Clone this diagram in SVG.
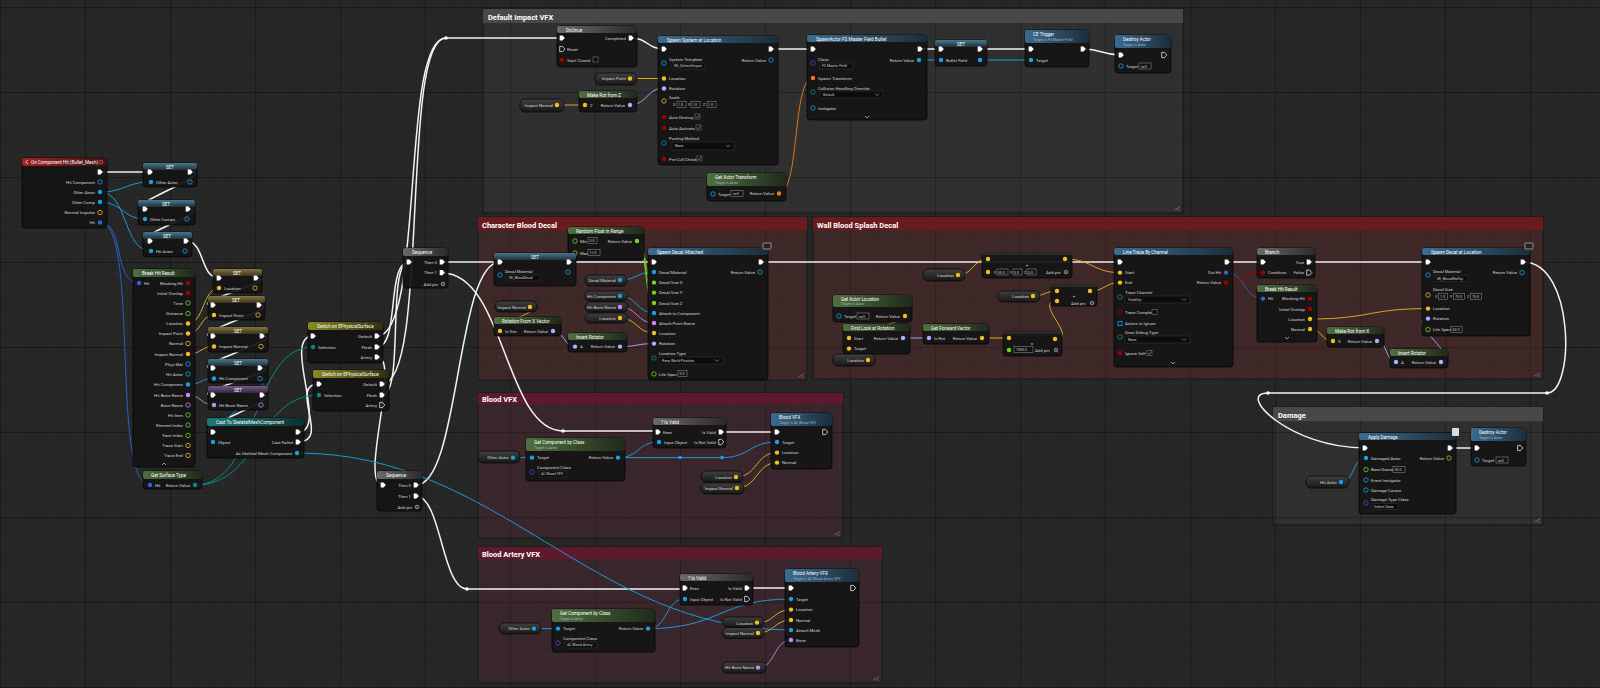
<svg xmlns="http://www.w3.org/2000/svg" width="1600" height="688" viewBox="0 0 1600 688">
<defs>
<pattern id="grid" patternUnits="userSpaceOnUse" x="0" y="7" width="85" height="85">
<rect width="85" height="85" fill="#262626"/>
<path d="M10.6 0V85M21.25 0V85M31.9 0V85M42.5 0V85M53.1 0V85M63.75 0V85M74.4 0V85M0 10.6H85M0 21.25H85M0 31.9H85M0 42.5H85M0 53.1H85M0 63.75H85M0 74.4H85" stroke="#2c2c2c" stroke-width="0.6"/>
<path d="M0.5 0V85M0 0.5H85" stroke="#191919" stroke-width="1"/>
</pattern>
<linearGradient id="gB" x1="0" x2="1"><stop offset="0" stop-color="#3b6c90"/><stop offset="1" stop-color="#1c2d3a"/></linearGradient>
<linearGradient id="gG" x1="0" x2="1"><stop offset="0" stop-color="#4f7040"/><stop offset="1" stop-color="#1f2a1c"/></linearGradient>
<linearGradient id="gR" x1="0" x2="1"><stop offset="0" stop-color="#a52222"/><stop offset="1" stop-color="#3a1212"/></linearGradient>
<linearGradient id="gY" x1="0" x2="1"><stop offset="0" stop-color="#8a8a25"/><stop offset="1" stop-color="#2e2e10"/></linearGradient>
<linearGradient id="gT" x1="0" x2="1"><stop offset="0" stop-color="#1b7a78"/><stop offset="1" stop-color="#0f2e2e"/></linearGradient>
<linearGradient id="gK" x1="0" x2="1"><stop offset="0" stop-color="#6a6a6a"/><stop offset="1" stop-color="#2a2a2a"/></linearGradient>
<linearGradient id="sB" x1="0" y1="0" x2="0" y2="1"><stop offset="0" stop-color="#4a7890"/><stop offset="1" stop-color="#1f303a"/></linearGradient>
<linearGradient id="sY" x1="0" y1="0" x2="0" y2="1"><stop offset="0" stop-color="#857540"/><stop offset="1" stop-color="#3a3420"/></linearGradient>
<linearGradient id="sP" x1="0" y1="0" x2="0" y2="1"><stop offset="0" stop-color="#7a5a8c"/><stop offset="1" stop-color="#33283a"/></linearGradient>
<linearGradient id="gP" x1="0" y1="0" x2="0" y2="1"><stop offset="0" stop-color="#404040"/><stop offset="1" stop-color="#181818"/></linearGradient>
<linearGradient id="gO" x1="0" y1="0" x2="0" y2="1"><stop offset="0" stop-color="#3a3a3a"/><stop offset="0.35" stop-color="#1c1c1c"/><stop offset="1" stop-color="#141414"/></linearGradient>
<path id="ex" d="M-2.3,-2.6H0.5L2.8,0L0.5,2.6H-2.3Z"/>
<style>
.nb{fill:#141414;fill-opacity:.93;stroke:#050505;stroke-width:.8}
.gp{fill:url(#gP);stroke:#080808;stroke-width:.8}
.t{font-family:Roboto,"Liberation Sans",sans-serif;font-size:4.3px;fill:#d4d4d4}
.r{text-anchor:end}
.m{text-anchor:middle}
.h{font-family:Roboto,"Liberation Sans",sans-serif;font-size:4.6px;fill:#fff}
.hs{font-family:Roboto,"Liberation Sans",sans-serif;font-size:3.6px;fill:#9fb4c4}
.ct{font-family:Roboto,"Liberation Sans",sans-serif;font-weight:bold;font-size:7.5px;fill:#fff}
.v{font-family:Roboto,"Liberation Sans",sans-serif;font-size:3.6px;fill:#cfcfcf}
.dd{fill:#0c0c0c;stroke:#3a3a3a;stroke-width:.5}
.bx{fill:#111;stroke:#9a9a9a;stroke-width:.5}
.cb{fill:#0c0c0c;stroke:#8a8a8a;stroke-width:.5}
.ck{fill:none;stroke:#6aa8e8;stroke-width:.7}
.xf{fill:#fff}
.xh{fill:none;stroke:#fff;stroke-width:.7}
.fB{fill:#1aa0e6}.hB{fill:none;stroke:#1aa0e6;stroke-width:.8}
.fS{fill:#2a66d8}
.fY{fill:#f0c020}.hY{fill:none;stroke:#f0c020;stroke-width:.8}
.fR{fill:#a8b0ff}
.fO{fill:#f07a18}
.fG{fill:#78d228}.hG{fill:none;stroke:#78d228;stroke-width:.8}
.fN{fill:#c88cf0}.hN{fill:none;stroke:#c88cf0;stroke-width:.8}
.fBo{fill:#a00000}.hBo{fill:none;stroke:#a00000;stroke-width:.8}
.fE{fill:#0a8a80}.hE{fill:none;stroke:#0a8a80;stroke-width:.8}
.hC{fill:none;stroke:#6a3ac0;stroke-width:.8}
.w{fill:none}
.wx{stroke:#f2f2f2;stroke-width:1.5}
.wB{stroke:#1a98d8;stroke-width:1}
.wS{stroke:#2a5fc0;stroke-width:1}
.wY{stroke:#d8a820;stroke-width:1}
.wR{stroke:#9aa2f0;stroke-width:1}
.wO{stroke:#e07418;stroke-width:1}
.wG{stroke:#6ccc20;stroke-width:1}
.wN{stroke:#b47ee0;stroke-width:1}
.wBo{stroke:#a00000;stroke-width:1}
.wE{stroke:#0a8a80;stroke-width:1}
.cm{stroke:#161616;stroke-width:1}
</style>
</defs>
<rect width="1600" height="688" fill="url(#grid)"/>

<g id="comments">
<g id="c-default-impact">
<rect class="cm" x="483" y="9" width="700" height="204" fill="#ffffff" fill-opacity="0.045"/>
<rect x="483" y="9" width="700" height="14" fill="#484848"/>
<text class="ct" x="488" y="20">Default Impact VFX</text>
<path d="M1180 210L1177 210M1180 207L1174 210" stroke="#888" stroke-width=".6"/>
</g>
<g id="c-character-blood">
<rect class="cm" x="478" y="217" width="329" height="163" fill="#903030" fill-opacity="0.24"/>
<rect x="478" y="217" width="329" height="13" fill="#6a1c1c"/>
<text class="ct" x="482" y="227.5">Character Blood Decal</text>
<path d="M804 377L801 377M804 374L798 377" stroke="#888" stroke-width=".6"/>
</g>
<g id="c-wall-blood">
<rect class="cm" x="813" y="217" width="730" height="162" fill="#903030" fill-opacity="0.24"/>
<rect x="813" y="217" width="730" height="13" fill="#6a1c1c"/>
<text class="ct" x="817" y="227.5">Wall Blood Splash Decal</text>
<path d="M1540 376L1537 376M1540 373L1534 376" stroke="#888" stroke-width=".6"/>
</g>
<g id="c-blood-vfx">
<rect class="cm" x="478" y="393" width="365" height="145" fill="#882a48" fill-opacity="0.2"/>
<rect x="478" y="393" width="365" height="11" fill="#5e1a2c"/>
<text class="ct" x="482" y="402">Blood VFX</text>
<path d="M840 535L837 535M840 532L834 535" stroke="#888" stroke-width=".6"/>
</g>
<g id="c-blood-artery">
<rect class="cm" x="478" y="547" width="404" height="136" fill="#882a48" fill-opacity="0.2"/>
<rect x="478" y="547" width="404" height="12" fill="#5e1a2c"/>
<text class="ct" x="482" y="556.5">Blood Artery VFX</text>
<path d="M879 680L876 680M879 677L873 680" stroke="#888" stroke-width=".6"/>
</g>
<g id="c-damage">
<rect class="cm" x="1273" y="407" width="270" height="118" fill="#ffffff" fill-opacity="0.045"/>
<rect x="1273" y="407" width="270" height="14" fill="#484848"/>
<text class="ct" x="1278" y="418">Damage</text>
<path d="M1540 522L1537 522M1540 519L1534 522" stroke="#888" stroke-width=".6"/>
</g>
</g>

<g id="connectors">
<g class="w wx">
<path d="M100 172H150"/>
<path d="M190 172C220 172 115 209 145 209"/>
<path d="M188 209C218 209 120 241 150 241"/>
<path d="M186 241C205 241 200 278 219 278"/>
<path d="M256 278C286 278 183 305 213 305"/>
<path d="M259 305C289 305 183 336 213 336"/>
<path d="M262 336C292 336 183 368 213 368"/>
<path d="M260 368C290 368 183 395 213 395"/>
<path d="M262 395C292 395 183 432 213 432"/>
<path d="M298 432C330 432 281 336 313 336"/>
<path d="M298 442C332 442 287 384 319 384"/>
<path d="M377 336C425 336 400 38 446 38"/>
<path d="M382 384C430 384 400 38 446 38"/>
<path d="M446 38H562"/>
<path d="M377 347C400 347 386 262 409 262"/>
<path d="M382 395C405 395 386 262 409 262"/>
<path d="M377 357C402 357 358 485 383 485"/>
<path d="M442 262H500"/>
<path d="M416 485C460 485 456 262 500 262"/>
<path d="M442 273C505 273 505 431 563 431H658"/>
<path d="M416 496C441 496 442 589 467 589H685"/>
<path d="M569 262H654"/>
<path d="M761 262H1120"/>
<path d="M1227 262H1263"/>
<path d="M1309 262H1428"/>
<path d="M1523 262C1575 262 1575 393 1547 393H1268C1235 393 1290 448 1365 448"/>
<path d="M1450 448H1477"/>
<path d="M631 38C648 38 647 49 664 49"/>
<path d="M771 49H813"/>
<path d="M920 49H941"/>
<path d="M980 49H1031"/>
<path d="M1083 49C1102 49 1102 55 1121 55"/>
<path d="M721 432H777"/>
<path d="M747 588H791"/>
</g>
<g class="w wB">
<path d="M100 192C125 192 126 182 151 182"/>
<path d="M100 192C128 192 123 251 151 251"/>
<path d="M100 202C122 202 123 219 145 219"/>
<path d="M188 384.5C201 384.5 201 378.5 214 378.5"/>
<path d="M260 378.5C285 378.5 188 442 213 442"/>
<path d="M297 453C500 453 590 630 791 630"/>
<path d="M919 60H941"/>
<path d="M980 60H1031"/>
<path d="M620 280C637 280 637 272 654 272"/>
<path d="M620 296C637 296 637 313 654 313"/>
<path d="M513 457.6H532"/>
<path d="M618 457.6C640 457.6 637 442 659 442"/>
<path d="M618 457.6H722C750 457.6 749 442 777 442"/>
<path d="M534 628.6H558"/>
<path d="M648 628.6C668 628.6 665 599 685 599"/>
<path d="M648 628.6C720 628.6 720 599 791 599"/>
<path d="M1341 482C1355 482 1352 458 1366 458"/>
</g>
<g class="w wS">
<path d="M100 222.5C125 222.5 113 283 139 283"/>
<path d="M100 222.5C140 222.5 110 485 150 485"/>
<path d="M1226 272.6C1245 272.6 1244 298.6 1263 298.6"/>
</g>
<g class="w wY">
<path d="M188 323.5C204 323.5 203 288 219 288"/>
<path d="M188 333.5C202 333.5 200 315 214 315"/>
<path d="M188 354C202 354 200 346.5 214 346.5"/>
<path d="M630 78.5H664"/>
<path d="M557 105H585"/>
<path d="M620 318C637 318 637 333 654 333"/>
<path d="M530 307C555 307 475 331 500 331"/>
<path d="M958 275C973 275 973 259 988 259"/>
<path d="M1065 259C1092 259 1093 272.6 1120 272.6"/>
<path d="M1033 296C1045 296 1045 291 1057 291"/>
<path d="M1090 291C1105 291 1105 282.6 1120 282.6"/>
<path d="M905 316C935 316 819 338 849 338"/>
<path d="M868 360C893 360 824 348.6 849 348.6"/>
<path d="M982 338H1009"/>
<path d="M1055 339C1080 339 1032 301 1057 301"/>
<path d="M1310 319C1370 319 1368 308.6 1428 308.6"/>
<path d="M1310 329C1322 329 1321 341 1333 341"/>
<path d="M736 477C757 477 756 452.6 777 452.6"/>
<path d="M737 488C757 488 757 462.6 777 462.6"/>
<path d="M757 623C774 623 774 609.6 791 609.6"/>
<path d="M758 633C774 633 775 620 791 620"/>
</g>
<g class="w wR">
<path d="M630 105C647 105 647 88 664 88"/>
<path d="M553 331C564 331 564 346.6 575 346.6"/>
<path d="M620 346.6C637 346.6 637 343.6 654 343.6"/>
<path d="M903 338H929"/>
<path d="M1377 341C1387 341 1386 362 1396 362"/>
<path d="M1441 362C1465 362 1403 318.6 1428 318.6"/>
</g>
<path class="w wO" d="M779 193C800 193 792 78 813 78"/>
<g class="w wG">
<path d="M637 241C647 241 644 282.6 654 282.6"/>
<path d="M637 241C647 241 644 292.6 654 292.6"/>
<path d="M637 241C647 241 644 303 654 303"/>
</g>
<g class="w wN">
<path d="M188 395C201 395 201 405 214 405"/>
<path d="M620 307C637 307 637 323 654 323"/>
<path d="M758 668C775 668 774 640 791 640"/>
</g>
<path class="w wBo" d="M1226 282.6C1245 282.6 1244 272.6 1263 272.6"/>
<g class="w wE">
<path d="M195 485C260 485 250 347 313 347"/>
<path d="M195 485C262 485 255 395 319 395"/>
</g>
<g id="knots">
<circle cx="446" cy="38" r="1.8" fill="#fff"/>
<circle cx="563" cy="431" r="1.8" fill="#fff"/>
<circle cx="467" cy="589" r="1.8" fill="#fff"/>
<circle cx="1547" cy="393" r="1.8" fill="#fff"/>
<circle cx="1268" cy="393" r="1.8" fill="#fff"/>
<circle cx="680" cy="457.6" r="1.8" fill="#1aa0e6"/>
<circle cx="722" cy="457.6" r="1.8" fill="#1aa0e6"/>
</g>
</g>

<!-- Event graph left -->
<g id="n-event">
<rect class="nb" x="22" y="158" width="85" height="70" rx="3"/>
<rect x="22" y="158" width="85" height="8" rx="2" fill="url(#gR)"/>
<text class="h" x="31" y="164">On Component Hit (Bullet_Mesh)</text>
<path d="M28 160L25.5 162L28 164" fill="none" stroke="#fff" stroke-width=".7"/>
<circle cx="101" cy="162" r="1.8" fill="none" stroke="#ff5050" stroke-width=".8"/>
<use href="#ex" x="100" y="172" class="xf"/>
<text class="t r" x="95" y="183.5">Hit Component</text><circle cx="100" cy="182" r="2.2" class="hB"/>
<text class="t r" x="95" y="193.5">Other Actor</text><circle cx="100" cy="192" r="2.2" class="fB"/>
<text class="t r" x="95" y="203.5">Other Comp</text><circle cx="100" cy="202" r="2.2" class="fB"/>
<text class="t r" x="95" y="214">Normal Impulse</text><circle cx="100" cy="212.5" r="2.2" class="hY"/>
<text class="t r" x="95" y="224">Hit</text><circle cx="100" cy="222.5" r="2.2" class="fS"/>
</g>
<g id="n-set-other-actor">
<rect class="nb" x="143" y="163" width="54" height="24" rx="3"/>
<rect x="143" y="163" width="54" height="7" rx="2" fill="url(#sB)"/>
<text class="h m" x="170" y="168.5">SET</text>
<use href="#ex" x="150" y="172" class="xf"/><use href="#ex" x="190" y="172" class="xf"/>
<circle cx="151" cy="182" r="2.2" class="fB"/><text class="t" x="156" y="183.5">Other Actor</text>
<circle cx="190" cy="182" r="2.2" class="hB"/>
</g>
<g id="n-set-other-comps">
<rect class="nb" x="138" y="200" width="57" height="25" rx="3"/>
<rect x="138" y="200" width="57" height="7" rx="2" fill="url(#sB)"/>
<text class="h m" x="166" y="205.5">SET</text>
<use href="#ex" x="145" y="209" class="xf"/><use href="#ex" x="188" y="209" class="xf"/>
<circle cx="145" cy="219" r="2.2" class="fB"/><text class="t" x="150" y="220.5">Other Comps</text>
<circle cx="187" cy="219" r="2.2" class="hB"/>
</g>
<g id="n-set-hit-actor">
<rect class="nb" x="143" y="232" width="49" height="25" rx="3"/>
<rect x="143" y="232" width="49" height="7" rx="2" fill="url(#sB)"/>
<text class="h m" x="167" y="237.5">SET</text>
<use href="#ex" x="150" y="241" class="xf"/><use href="#ex" x="186" y="241" class="xf"/>
<circle cx="151" cy="251" r="2.2" class="fB"/><text class="t" x="156" y="252.5">Hit Actor</text>
<circle cx="185" cy="251" r="2.2" class="hB"/>
</g>
<g id="n-break-hit-1">
<rect class="nb" x="133" y="269" width="62" height="198" rx="3"/>
<rect x="133" y="269" width="62" height="8" rx="2" fill="url(#gG)"/>
<text class="h" x="142" y="275">Break Hit Result</text>
<circle cx="139" cy="283" r="2.2" class="fS"/><text class="t" x="144" y="284.5">Hit</text>
<text class="t r" x="183" y="284.5">Blocking Hit</text><circle cx="188" cy="283" r="2.2" class="fBo"/>
<text class="t r" x="183" y="294.5">Initial Overlap</text><circle cx="188" cy="293" r="2.2" class="fBo"/>
<text class="t r" x="183" y="304.5">Time</text><circle cx="188" cy="303" r="2.2" class="hG"/>
<text class="t r" x="183" y="315">Distance</text><circle cx="188" cy="313.5" r="2.2" class="hG"/>
<text class="t r" x="183" y="325">Location</text><circle cx="188" cy="323.5" r="2.2" class="fY"/>
<text class="t r" x="183" y="335">Impact Point</text><circle cx="188" cy="333.5" r="2.2" class="fY"/>
<text class="t r" x="183" y="345">Normal</text><circle cx="188" cy="343.5" r="2.2" class="hY"/>
<text class="t r" x="183" y="355.5">Impact Normal</text><circle cx="188" cy="354" r="2.2" class="fY"/>
<text class="t r" x="183" y="365.5">Phys Mat</text><circle cx="188" cy="364" r="2.2" class="hB"/>
<text class="t r" x="183" y="375.5">Hit Actor</text><circle cx="188" cy="374" r="2.2" class="hB"/>
<text class="t r" x="183" y="386">Hit Component</text><circle cx="188" cy="384.5" r="2.2" class="fB"/>
<text class="t r" x="183" y="396.5">Hit Bone Name</text><circle cx="188" cy="395" r="2.2" class="fN"/>
<text class="t r" x="183" y="406.5">Bone Name</text><circle cx="188" cy="405" r="2.2" class="hN"/>
<text class="t r" x="183" y="416.5">Hit Item</text><circle cx="188" cy="415" r="2.2" class="hG"/>
<text class="t r" x="183" y="426.5">Element Index</text><circle cx="188" cy="425" r="2.2" class="hG"/>
<text class="t r" x="183" y="437">Face Index</text><circle cx="188" cy="435.5" r="2.2" class="hG"/>
<text class="t r" x="183" y="447">Trace Start</text><circle cx="188" cy="445.5" r="2.2" class="hY"/>
<text class="t r" x="183" y="457">Trace End</text><circle cx="188" cy="455.5" r="2.2" class="hY"/>
<path d="M162 465L164 463L166 465" fill="none" stroke="#ccc" stroke-width=".7"/>
</g>
<g id="n-set-location">
<rect class="nb" x="213" y="269" width="49" height="24" rx="3"/>
<rect x="213" y="269" width="49" height="7" rx="2" fill="url(#sY)"/>
<text class="h m" x="237" y="274.5">SET</text>
<use href="#ex" x="219" y="278" class="xf"/><use href="#ex" x="256" y="278" class="xf"/>
<circle cx="219" cy="288" r="2.2" class="fY"/><text class="t" x="224" y="289.5">Location</text>
<circle cx="255" cy="288" r="2.2" class="hY"/>
</g>
<g id="n-set-impact-point">
<rect class="nb" x="208" y="296" width="57" height="24" rx="3"/>
<rect x="208" y="296" width="57" height="7" rx="2" fill="url(#sY)"/>
<text class="h m" x="236" y="301.5">SET</text>
<use href="#ex" x="213" y="305" class="xf"/><use href="#ex" x="259" y="305" class="xf"/>
<circle cx="214" cy="315" r="2.2" class="fY"/><text class="t" x="219" y="316.5">Impact Point</text>
<circle cx="258" cy="315" r="2.2" class="hY"/>
</g>
<g id="n-set-impact-normal">
<rect class="nb" x="208" y="327" width="60" height="25" rx="3"/>
<rect x="208" y="327" width="60" height="7" rx="2" fill="url(#sY)"/>
<text class="h m" x="238" y="332.5">SET</text>
<use href="#ex" x="213" y="336" class="xf"/><use href="#ex" x="262" y="336" class="xf"/>
<circle cx="214" cy="346.5" r="2.2" class="fY"/><text class="t" x="219" y="348">Impact Normal</text>
<circle cx="261" cy="346.5" r="2.2" class="hY"/>
</g>
<g id="n-set-hit-component">
<rect class="nb" x="208" y="359" width="60" height="24" rx="3"/>
<rect x="208" y="359" width="60" height="7" rx="2" fill="url(#sB)"/>
<text class="h m" x="238" y="364.5">SET</text>
<use href="#ex" x="213" y="368" class="xf"/><use href="#ex" x="260" y="368" class="xf"/>
<circle cx="214" cy="378.5" r="2.2" class="fB"/><text class="t" x="219" y="380">Hit Component</text>
<circle cx="260" cy="378.5" r="2.2" class="hB"/>
</g>
<g id="n-set-hit-bone-name">
<rect class="nb" x="208" y="386" width="60" height="24" rx="3"/>
<rect x="208" y="386" width="60" height="7" rx="2" fill="url(#sP)"/>
<text class="h m" x="238" y="391.5">SET</text>
<use href="#ex" x="213" y="395" class="xf"/><use href="#ex" x="262" y="395" class="xf"/>
<circle cx="214" cy="405" r="2.2" class="fN"/><text class="t" x="219" y="406.5">Hit Bone Name</text>
<circle cx="261" cy="405" r="2.2" class="hN"/>
</g>
<g id="n-cast">
<rect class="nb" x="207" y="418" width="97" height="40" rx="3"/>
<rect x="207" y="418" width="97" height="8" rx="2" fill="url(#gT)"/>
<text class="h" x="216" y="424">Cast To SkeletalMeshComponent</text>
<use href="#ex" x="213" y="432" class="xf"/><use href="#ex" x="298" y="432" class="xf"/>
<circle cx="213" cy="442" r="2.2" class="fB"/><text class="t" x="218" y="443.5">Object</text>
<text class="t r" x="293" y="443.5">Cast Failed</text><use href="#ex" x="298" y="442" class="xf"/>
<text class="t r" x="292" y="454.5">As Skeletal Mesh Component</text><circle cx="297" cy="453" r="2.2" class="fB"/>
</g>
<g id="n-get-surface-type">
<rect class="nb" x="143" y="471" width="59" height="18" rx="3"/>
<rect x="143" y="471" width="59" height="8" rx="2" fill="url(#gG)"/>
<text class="h" x="151" y="477">Get Surface Type</text>
<circle cx="150" cy="485" r="2.2" class="fS"/><text class="t" x="155" y="486.5">Hit</text>
<text class="t r" x="190" y="486.5">Return Value</text><circle cx="195" cy="485" r="2.2" class="fE"/>
</g>
<g id="n-switch-1">
<rect class="nb" x="308" y="322" width="75" height="41" rx="3"/>
<rect x="308" y="322" width="75" height="8" rx="2" fill="url(#gY)"/>
<text class="h" x="317" y="328">Switch on EPhysicalSurface</text>
<use href="#ex" x="313" y="336" class="xf"/>
<circle cx="313" cy="347" r="2.2" class="fE"/><text class="t" x="318" y="348.5">Selection</text>
<text class="t r" x="372" y="337.5">Default</text><use href="#ex" x="377" y="336" class="xf"/>
<text class="t r" x="372" y="348.5">Flesh</text><use href="#ex" x="377" y="347" class="xf"/>
<text class="t r" x="372" y="358.5">Artery</text><use href="#ex" x="377" y="357" class="xf"/>
</g>
<g id="n-switch-2">
<rect class="nb" x="313" y="370" width="76" height="41" rx="3"/>
<rect x="313" y="370" width="76" height="8" rx="2" fill="url(#gY)"/>
<text class="h" x="322" y="376">Switch on EPhysicalSurface</text>
<use href="#ex" x="319" y="384" class="xf"/>
<circle cx="319" cy="395" r="2.2" class="fE"/><text class="t" x="324" y="396.5">Selection</text>
<text class="t r" x="377" y="385.5">Default</text><use href="#ex" x="382" y="384" class="xf"/>
<text class="t r" x="377" y="396.5">Flesh</text><use href="#ex" x="382" y="395" class="xf"/>
<text class="t r" x="377" y="406.5">Artery</text><use href="#ex" x="382" y="405" class="xh"/>
</g>
<g id="n-sequence-1">
<rect class="nb" x="403" y="248" width="45" height="40" rx="3"/>
<rect x="403" y="248" width="45" height="8" rx="2" fill="url(#gK)"/>
<text class="h" x="412" y="254">Sequence</text>
<use href="#ex" x="409" y="262" class="xf"/>
<text class="t r" x="437" y="263.5">Then 0</text><use href="#ex" x="442" y="262" class="xf"/>
<text class="t r" x="437" y="274">Then 1</text><use href="#ex" x="442" y="272.6" class="xf"/>
<text class="t r" x="438" y="285.5">Add pin</text><circle cx="443" cy="284" r="1.8" fill="none" stroke="#ddd" stroke-width=".6"/><circle cx="443" cy="284" r=".6" fill="#ddd"/>
</g>
<g id="n-sequence-2">
<rect class="nb" x="377" y="471" width="45" height="40" rx="3"/>
<rect x="377" y="471" width="45" height="8" rx="2" fill="url(#gK)"/>
<text class="h" x="386" y="477">Sequence</text>
<use href="#ex" x="383" y="485" class="xf"/>
<text class="t r" x="411" y="486.5">Then 0</text><use href="#ex" x="416" y="485" class="xf"/>
<text class="t r" x="411" y="497.5">Then 1</text><use href="#ex" x="416" y="496" class="xf"/>
<text class="t r" x="412" y="508.5">Add pin</text><circle cx="417" cy="507" r="1.8" fill="none" stroke="#ddd" stroke-width=".6"/><circle cx="417" cy="507" r=".6" fill="#ddd"/>
</g>

<!-- Default Impact VFX -->
<g id="n-do-once">
<rect class="nb" x="557" y="26" width="80" height="41" rx="3"/>
<rect x="557" y="26" width="80" height="7" rx="2" fill="url(#gK)"/>
<text class="h" x="566" y="31.5">DoOnce</text>
<use href="#ex" x="562" y="38" class="xf"/>
<text class="t r" x="626" y="39.5">Completed</text><use href="#ex" x="631" y="38" class="xf"/>
<use href="#ex" x="562" y="49" class="xh"/><text class="t" x="567" y="50.5">Reset</text>
<circle cx="562" cy="60" r="2.2" class="fBo"/><text class="t" x="567" y="61.5">Start Closed</text>
<rect class="cb" x="593" y="57" width="5" height="5"/>
</g>
<g id="n-spawn-system">
<rect class="nb" x="658" y="36" width="120" height="129" rx="3"/>
<rect x="658" y="36" width="120" height="7" rx="2" fill="url(#gB)"/>
<text class="h" x="667" y="41.5">Spawn System at Location</text>
<use href="#ex" x="664" y="49" class="xf"/><use href="#ex" x="771" y="49" class="xf"/>
<circle cx="664" cy="63" r="2.2" class="hB"/><text class="t" x="669" y="61">System Template</text>
<rect class="dd" x="672" y="63" width="33" height="6"/><text class="v" x="674" y="67.3">NS_DefaultImpac</text>
<text class="t r" x="766" y="61.5">Return Value</text><circle cx="771" cy="60" r="2.2" class="hB"/>
<circle cx="664" cy="78.5" r="2.2" class="fY"/><text class="t" x="669" y="80">Location</text>
<circle cx="664" cy="88.5" r="2.2" class="fR"/><text class="t" x="669" y="90">Rotation</text>
<circle cx="664" cy="101" r="2.2" class="hY"/><text class="t" x="669" y="98.5">Scale</text>
<text class="v" x="673" y="106">X</text><rect class="bx" x="677" y="101.5" width="9" height="6"/><text class="v" x="678" y="106">1.0</text>
<text class="v" x="688" y="106">Y</text><rect class="bx" x="691" y="101.5" width="9" height="6"/><text class="v" x="692" y="106">1.0</text>
<text class="v" x="703" y="106">Z</text><rect class="bx" x="707" y="101.5" width="9" height="6"/><text class="v" x="708" y="106">1.0</text>
<circle cx="664" cy="117" r="2.2" class="fBo"/><text class="t" x="669" y="118.5">Auto Destroy</text>
<rect class="cb" x="695" y="114" width="5" height="5"/><path class="ck" d="M696 116.5L697.3 118L699.3 114.8"/>
<circle cx="664" cy="128" r="2.2" class="fBo"/><text class="t" x="669" y="129.5">Auto Activate</text>
<rect class="cb" x="696" y="125" width="5" height="5"/><path class="ck" d="M697 127.5L698.3 129L700.3 125.8"/>
<circle cx="664" cy="143" r="2.2" class="hE"/><text class="t" x="669" y="140">Pooling Method</text>
<rect class="dd" x="672" y="142" width="62" height="8"/><text class="v" x="675" y="147.3">None</text>
<path d="M726 145L728 147L730 145" fill="none" stroke="#aaa" stroke-width=".6"/>
<circle cx="664" cy="159" r="2.2" class="fBo"/><text class="t" x="669" y="160.5">Pre Cull Check</text>
<rect class="cb" x="697" y="156" width="5" height="5"/><path class="ck" d="M698 158.5L699.3 160L701.3 156.8"/>
</g>
<g id="n-impact-point-get">
<rect class="gp" x="595" y="73" width="42" height="12" rx="5"/>
<text class="t r" x="626" y="80">Impact Point</text><circle cx="630" cy="78.5" r="2.2" class="fY"/>
</g>
<g id="n-make-rot-z">
<rect class="nb" x="579" y="91" width="58" height="21" rx="3"/>
<rect x="579" y="91" width="58" height="7" rx="2" fill="url(#gG)"/>
<text class="h" x="587" y="96.5">Make Rot from Z</text>
<circle cx="585" cy="105" r="2.2" class="fY"/><text class="t" x="590" y="106.5">Z</text>
<text class="t r" x="625" y="106.5">Return Value</text><circle cx="630" cy="105" r="2.2" class="fR"/>
</g>
<g id="n-impact-normal-get-1">
<rect class="gp" x="520" y="99" width="44" height="13" rx="5"/>
<text class="t r" x="553" y="106.5">Impact Normal</text><circle cx="557" cy="105" r="2.2" class="fY"/>
</g>
<g id="n-get-actor-transform">
<rect class="nb" x="707" y="173" width="79" height="28" rx="3"/>
<rect x="707" y="173" width="79" height="13" rx="2" fill="url(#gG)"/>
<text class="h" x="715" y="179">Get Actor Transform</text>
<text class="hs" x="715" y="184">Target is Actor</text>
<circle cx="713" cy="194" r="2.2" class="hB"/><text class="t" x="718" y="195.5">Target</text>
<rect class="bx" x="731" y="190.5" width="12" height="6"/><text class="v" x="733" y="195">self</text>
<text class="t r" x="774" y="195">Return Value</text><circle cx="779" cy="193.5" r="2.2" class="fO"/>
</g>
<g id="n-spawn-actor">
<rect class="nb" x="807" y="35" width="120" height="85" rx="3"/>
<rect x="807" y="35" width="120" height="7" rx="2" fill="url(#gB)"/>
<text class="h" x="816" y="40.5">SpawnActor FS Master Field Bullet</text>
<use href="#ex" x="813" y="49" class="xf"/><use href="#ex" x="920" y="49" class="xf"/>
<circle cx="813" cy="63" r="2.2" class="hC"/><text class="t" x="818" y="61">Class</text>
<rect class="dd" x="820" y="63" width="33" height="6"/><text class="v" x="822" y="67.3">FS Master Field</text>
<text class="t r" x="914" y="61.5">Return Value</text><circle cx="919" cy="60" r="2.2" class="fB"/>
<circle cx="813" cy="78" r="2.2" class="fO"/><text class="t" x="818" y="79.5">Spawn Transform</text>
<circle cx="813" cy="92" r="2.2" class="hE"/><text class="t" x="818" y="89.5">Collision Handling Override</text>
<rect class="dd" x="820" y="91" width="63" height="7"/><text class="v" x="823" y="95.8">Default</text>
<path d="M875 93.5L877 95.5L879 93.5" fill="none" stroke="#aaa" stroke-width=".6"/>
<circle cx="813" cy="108" r="2.2" class="hB"/><text class="t" x="818" y="109.5">Instigator</text>
<path d="M865 116L867 118L869 116" fill="none" stroke="#ccc" stroke-width=".7"/>
</g>
<g id="n-set-bullet-field">
<rect class="nb" x="935" y="40" width="52" height="26" rx="3"/>
<rect x="935" y="40" width="52" height="7" rx="2" fill="url(#sB)"/>
<text class="h m" x="961" y="45.5">SET</text>
<use href="#ex" x="941" y="49" class="xf"/><use href="#ex" x="980" y="49" class="xf"/>
<circle cx="941" cy="60" r="2.2" class="fB"/><text class="t" x="946" y="61.5">Bullet Field</text>
<circle cx="980" cy="60" r="2.2" class="fB"/>
</g>
<g id="n-ce-trigger">
<rect class="nb" x="1025" y="30" width="64" height="37" rx="3"/>
<rect x="1025" y="30" width="64" height="13" rx="2" fill="url(#gB)"/>
<text class="h" x="1033" y="35.5">CE Trigger</text>
<text class="hs" x="1033" y="40.5">Target is FS Master Field</text>
<use href="#ex" x="1031" y="49" class="xf"/><use href="#ex" x="1083" y="49" class="xf"/>
<circle cx="1031" cy="60" r="2.2" class="fB"/><text class="t" x="1036" y="61.5">Target</text>
</g>
<g id="n-destroy-actor-1">
<rect class="nb" x="1115" y="35" width="56" height="38" rx="3"/>
<rect x="1115" y="35" width="56" height="13" rx="2" fill="url(#gB)"/>
<text class="h" x="1123" y="40.5">Destroy Actor</text>
<text class="hs" x="1123" y="45.5">Target is Actor</text>
<use href="#ex" x="1121" y="55" class="xf"/><use href="#ex" x="1164" y="55" class="xh"/>
<circle cx="1121" cy="66" r="2.2" class="hB"/><text class="t" x="1126" y="67.5">Target</text>
<rect class="bx" x="1139" y="63" width="12" height="6"/><text class="v" x="1141" y="67.5">self</text>
</g>

<!-- Character Blood Decal -->
<g id="n-random-float">
<rect class="nb" x="568" y="227" width="76" height="33" rx="3"/>
<rect x="568" y="227" width="76" height="7" rx="2" fill="url(#gG)"/>
<text class="h" x="576" y="232.5">Random Float in Range</text>
<circle cx="575" cy="241" r="2.2" class="hG"/><text class="t" x="580" y="242.5">Min</text>
<rect class="bx" x="588" y="237.5" width="9" height="6"/><text class="v" x="589.5" y="242">0.0</text>
<circle cx="575" cy="253" r="2.2" class="hG"/><text class="t" x="580" y="254.5">Max</text>
<rect class="bx" x="588" y="249.5" width="12" height="6"/><text class="v" x="589.5" y="254">12.0</text>
<text class="t r" x="632" y="242.5">Return Value</text><circle cx="637" cy="241" r="2.2" class="fG"/>
</g>
<g id="n-set-decal-material">
<rect class="nb" x="494" y="253" width="82" height="33" rx="3"/>
<rect x="494" y="253" width="82" height="7" rx="2" fill="url(#sB)"/>
<text class="h m" x="535" y="258.5">SET</text>
<use href="#ex" x="500" y="262" class="xf"/><use href="#ex" x="569" y="262" class="xf"/>
<circle cx="500" cy="275" r="2.2" class="hB"/><text class="t" x="505" y="273">Decal Material</text>
<rect class="dd" x="507" y="275" width="33" height="6"/><text class="v" x="509" y="279.3">MI_BloodDecal</text>
<circle cx="568" cy="272" r="2.2" class="hB"/>
</g>
<g id="n-spawn-decal-attached">
<rect class="nb" x="648" y="248" width="120" height="132" rx="3"/>
<rect x="648" y="248" width="120" height="7" rx="2" fill="url(#gB)"/>
<text class="h" x="657" y="253.5">Spawn Decal Attached</text>
<rect x="763" y="243" width="8" height="6" rx="1" fill="#222" stroke="#ddd" stroke-width=".6"/>
<use href="#ex" x="654" y="262" class="xf"/><use href="#ex" x="761" y="262" class="xf"/>
<circle cx="654" cy="272" r="2.2" class="fB"/><text class="t" x="659" y="273.5">Decal Material</text>
<text class="t r" x="755" y="273.5">Return Value</text><circle cx="760" cy="272" r="2.2" class="hB"/>
<circle cx="654" cy="282.6" r="2.2" class="fG"/><text class="t" x="659" y="284">Decal Size X</text>
<circle cx="654" cy="292.6" r="2.2" class="fG"/><text class="t" x="659" y="294">Decal Size Y</text>
<circle cx="654" cy="303" r="2.2" class="fG"/><text class="t" x="659" y="304.5">Decal Size Z</text>
<circle cx="654" cy="313" r="2.2" class="fB"/><text class="t" x="659" y="314.5">Attach to Component</text>
<circle cx="654" cy="323" r="2.2" class="fN"/><text class="t" x="659" y="324.5">Attach Point Name</text>
<circle cx="654" cy="333" r="2.2" class="fY"/><text class="t" x="659" y="334.5">Location</text>
<circle cx="654" cy="343.6" r="2.2" class="fR"/><text class="t" x="659" y="345">Rotation</text>
<circle cx="654" cy="358" r="2.2" class="hE"/><text class="t" x="659" y="355">Location Type</text>
<rect class="dd" x="659" y="357" width="64" height="7"/><text class="v" x="662" y="361.8">Keep World Position</text>
<path d="M715 359.5L717 361.5L719 359.5" fill="none" stroke="#aaa" stroke-width=".6"/>
<circle cx="654" cy="374" r="2.2" class="hG"/><text class="t" x="659" y="375.5">Life Span</text>
<rect class="bx" x="678" y="370.5" width="9" height="6"/><text class="v" x="679.5" y="375">0.0</text>
</g>
<g id="n-decal-material-get">
<rect class="gp" x="585" y="275" width="42" height="11" rx="5"/>
<text class="t r" x="616" y="281.5">Decal Material</text><circle cx="620" cy="280" r="2.2" class="fB"/>
</g>
<g id="n-hit-component-get">
<rect class="gp" x="585" y="291" width="43" height="10" rx="5"/>
<text class="t r" x="616" y="297.5">Hit Component</text><circle cx="620" cy="296" r="2.2" class="fB"/>
</g>
<g id="n-hit-bone-name-get-1">
<rect class="gp" x="585" y="302" width="43" height="10" rx="5"/>
<text class="t r" x="616" y="308.5">Hit Bone Name</text><circle cx="620" cy="307" r="2.2" class="fN"/>
</g>
<g id="n-location-get-1">
<rect class="gp" x="585" y="313" width="43" height="10" rx="5"/>
<text class="t r" x="616" y="319.5">Location</text><circle cx="620" cy="318" r="2.2" class="fY"/>
</g>
<g id="n-impact-normal-get-2">
<rect class="gp" x="495" y="301" width="42" height="11" rx="5"/>
<text class="t r" x="526" y="308.5">Impact Normal</text><circle cx="530" cy="307" r="2.2" class="fY"/>
</g>
<g id="n-rotation-from-x">
<rect class="nb" x="494" y="317" width="67" height="19" rx="3"/>
<rect x="494" y="317" width="67" height="7" rx="2" fill="url(#gG)"/>
<text class="h" x="502" y="322.5">Rotation From X Vector</text>
<circle cx="500" cy="331" r="2.2" class="fY"/><text class="t" x="505" y="332.5">In Vec</text>
<text class="t r" x="548" y="332.5">Return Value</text><circle cx="553" cy="331" r="2.2" class="fR"/>
</g>
<g id="n-invert-rotator-1">
<rect class="nb" x="568" y="333" width="59" height="19" rx="3"/>
<rect x="568" y="333" width="59" height="7" rx="2" fill="url(#gG)"/>
<text class="h" x="576" y="338.5">Invert Rotator</text>
<circle cx="575" cy="346.6" r="2.2" class="fR"/><text class="t" x="580" y="348">A</text>
<text class="t r" x="615" y="348">Return Value</text><circle cx="620" cy="346.6" r="2.2" class="fR"/>
</g>

<!-- Wall Blood Splash Decal -->
<g id="n-add-vector-1">
<rect class="nb" x="982" y="253" width="90" height="25" rx="3"/>
<rect x="982" y="253" width="90" height="6" rx="2" fill="url(#gO)"/>
<circle cx="988" cy="259" r="2.2" class="fY"/>
<text class="t m" x="1027" y="267">+</text>
<text class="t r" x="1060" y="260">   </text><circle cx="1065" cy="259" r="2.2" class="fY"/>
<circle cx="988" cy="272" r="2.2" class="fY"/>
<text class="v" x="994" y="273.5">X</text><rect class="bx" x="997" y="269" width="11" height="6"/><text class="v" x="998" y="273.5">50.0</text>
<text class="v" x="1010" y="273.5">Y</text><rect class="bx" x="1013" y="269" width="9" height="6"/><text class="v" x="1014" y="273.5">0.0</text>
<text class="v" x="1024" y="273.5">Z</text><rect class="bx" x="1027" y="269" width="9" height="6"/><text class="v" x="1028" y="273.5">0.0</text>
<text class="t" x="1046" y="273.5">Add pin</text><circle cx="1066" cy="272" r="1.8" fill="none" stroke="#ddd" stroke-width=".6"/><circle cx="1066" cy="272" r=".6" fill="#ddd"/>
</g>
<g id="n-location-get-2">
<rect class="gp" x="923" y="269" width="42" height="12" rx="5"/>
<text class="t r" x="954" y="276.5">Location</text><circle cx="958" cy="275" r="2.2" class="fY"/>
</g>
<g id="n-line-trace">
<rect class="nb" x="1114" y="248" width="119" height="119" rx="3"/>
<rect x="1114" y="248" width="119" height="7" rx="2" fill="url(#gB)"/>
<text class="h" x="1123" y="253.5">Line Trace By Channel</text>
<use href="#ex" x="1120" y="262" class="xf"/><use href="#ex" x="1227" y="262" class="xf"/>
<circle cx="1120" cy="272.6" r="2.2" class="fY"/><text class="t" x="1125" y="274">Start</text>
<circle cx="1120" cy="282.6" r="2.2" class="fY"/><text class="t" x="1125" y="284">End</text>
<text class="t r" x="1221" y="274">Out Hit</text><circle cx="1226" cy="272.6" r="2.2" class="fS"/>
<text class="t r" x="1221" y="284">Return Value</text><circle cx="1226" cy="282.6" r="2.2" class="fBo"/>
<circle cx="1120" cy="297" r="2.2" class="hE"/><text class="t" x="1125" y="293.5">Trace Channel</text>
<rect class="dd" x="1125" y="296" width="65" height="7"/><text class="v" x="1128" y="300.8">Visibility</text>
<path d="M1182 298.5L1184 300.5L1186 298.5" fill="none" stroke="#aaa" stroke-width=".6"/>
<circle cx="1120" cy="312" r="2.2" class="hBo"/><text class="t" x="1125" y="313.5">Trace Complex</text>
<rect class="cb" x="1152" y="309.5" width="5" height="5"/>
<rect x="1118" y="321.6" width="4" height="4" fill="none" stroke="#1aa0e6" stroke-width=".8"/><text class="t" x="1125" y="325">Actors to Ignore</text>
<circle cx="1120" cy="337" r="2.2" class="hE"/><text class="t" x="1125" y="334">Draw Debug Type</text>
<rect class="dd" x="1125" y="336" width="65" height="7"/><text class="v" x="1128" y="340.8">None</text>
<path d="M1182 338.5L1184 340.5L1186 338.5" fill="none" stroke="#aaa" stroke-width=".6"/>
<circle cx="1120" cy="353" r="2.2" class="fBo"/><text class="t" x="1125" y="354.5">Ignore Self</text>
<rect class="cb" x="1147" y="350.5" width="5" height="5"/><path class="ck" d="M1148 353L1149.3 354.5L1151.3 351.3"/>
<path d="M1171 362L1173 364L1175 362" fill="none" stroke="#ccc" stroke-width=".7"/>
</g>
<g id="n-location-get-3">
<rect class="gp" x="998" y="291" width="42" height="11" rx="5"/>
<text class="t r" x="1029" y="297.5">Location</text><circle cx="1033" cy="296" r="2.2" class="fY"/>
</g>
<g id="n-add-vector-2">
<rect class="nb" x="1051" y="285" width="46" height="21" rx="3"/>
<rect x="1051" y="285" width="46" height="6" rx="2" fill="url(#gO)"/>
<circle cx="1057" cy="291" r="2.2" class="fY"/>
<circle cx="1057" cy="301" r="2.2" class="fY"/>
<circle cx="1090" cy="291" r="2.2" class="fY"/>
<text class="t m" x="1074" y="297.5">+</text>
<text class="t" x="1071" y="304.5">Add pin</text><circle cx="1092" cy="303" r="1.8" fill="none" stroke="#ddd" stroke-width=".6"/><circle cx="1092" cy="303" r=".6" fill="#ddd"/>
</g>
<g id="n-get-actor-location">
<rect class="nb" x="833" y="295" width="79" height="27" rx="3"/>
<rect x="833" y="295" width="79" height="12" rx="2" fill="url(#gG)"/>
<text class="h" x="841" y="300.5">Get Actor Location</text>
<text class="hs" x="841" y="305.3">Target is Actor</text>
<circle cx="839" cy="316" r="2.2" class="hB"/><text class="t" x="844" y="317.5">Target</text>
<rect class="bx" x="857" y="313" width="12" height="6"/><text class="v" x="859" y="317.5">self</text>
<text class="t r" x="900" y="317.5">Return Value</text><circle cx="905" cy="316" r="2.2" class="fY"/>
</g>
<g id="n-find-look-at">
<rect class="nb" x="843" y="324" width="67" height="30" rx="3"/>
<rect x="843" y="324" width="67" height="7" rx="2" fill="url(#gG)"/>
<text class="h" x="851" y="329.5">Find Look at Rotation</text>
<circle cx="849" cy="338" r="2.2" class="fY"/><text class="t" x="854" y="339.5">Start</text>
<circle cx="849" cy="348.6" r="2.2" class="fY"/><text class="t" x="854" y="350">Target</text>
<text class="t r" x="898" y="339.5">Return Value</text><circle cx="903" cy="338" r="2.2" class="fR"/>
</g>
<g id="n-location-get-4">
<rect class="gp" x="833" y="354" width="42" height="12" rx="5"/>
<text class="t r" x="864" y="361.5">Location</text><circle cx="868" cy="360" r="2.2" class="fY"/>
</g>
<g id="n-get-forward-vector">
<rect class="nb" x="923" y="324" width="66" height="20" rx="3"/>
<rect x="923" y="324" width="66" height="7" rx="2" fill="url(#gG)"/>
<text class="h" x="931" y="329.5">Get Forward Vector</text>
<circle cx="929" cy="338" r="2.2" class="fR"/><text class="t" x="934" y="339.5">In Rot</text>
<text class="t r" x="977" y="339.5">Return Value</text><circle cx="982" cy="338" r="2.2" class="fY"/>
</g>
<g id="n-multiply">
<rect class="nb" x="1003" y="332" width="59" height="24" rx="3"/>
<rect x="1003" y="332" width="59" height="6" rx="2" fill="url(#gO)"/>
<circle cx="1009" cy="338" r="2.2" class="fY"/>
<circle cx="1055" cy="339" r="2.2" class="fY"/>
<text class="t m" x="1032" y="344.5">×</text>
<circle cx="1009" cy="350" r="2.2" class="fG"/>
<rect class="bx" x="1014" y="346.5" width="19" height="6"/><text class="v" x="1016" y="351">1000.0</text>
<text class="t" x="1035" y="351.5">Add pin</text><circle cx="1056" cy="350" r="1.8" fill="none" stroke="#ddd" stroke-width=".6"/><circle cx="1056" cy="350" r=".6" fill="#ddd"/>
</g>
<g id="n-branch">
<rect class="nb" x="1257" y="248" width="58" height="30" rx="3"/>
<rect x="1257" y="248" width="58" height="7" rx="2" fill="url(#gK)"/>
<text class="h" x="1265" y="253.5">Branch</text>
<use href="#ex" x="1263" y="262" class="xf"/>
<circle cx="1263" cy="272.6" r="2.2" class="fBo"/><text class="t" x="1268" y="274">Condition</text>
<text class="t r" x="1304" y="263.5">True</text><use href="#ex" x="1309" y="262" class="xf"/>
<text class="t r" x="1304" y="274">False</text><use href="#ex" x="1309" y="272.6" class="xh"/>
</g>
<g id="n-break-hit-2">
<rect class="nb" x="1257" y="285" width="60" height="57" rx="3"/>
<rect x="1257" y="285" width="60" height="7" rx="2" fill="url(#gG)"/>
<text class="h" x="1265" y="290.5">Break Hit Result</text>
<circle cx="1263" cy="298.6" r="2.2" class="fS"/><text class="t" x="1268" y="300">Hit</text>
<text class="t r" x="1305" y="300">Blocking Hit</text><circle cx="1310" cy="298.6" r="2.2" class="fBo"/>
<text class="t r" x="1305" y="310.5">Initial Overlap</text><circle cx="1310" cy="309" r="2.2" class="fBo"/>
<text class="t r" x="1305" y="320.5">Location</text><circle cx="1310" cy="319" r="2.2" class="fY"/>
<text class="t r" x="1305" y="330.5">Normal</text><circle cx="1310" cy="329" r="2.2" class="fY"/>
<path d="M1285 337L1287 339L1289 337" fill="none" stroke="#ccc" stroke-width=".7"/>
</g>
<g id="n-make-rot-x">
<rect class="nb" x="1327" y="327" width="57" height="20" rx="3"/>
<rect x="1327" y="327" width="57" height="7" rx="2" fill="url(#gG)"/>
<text class="h" x="1335" y="332.5">Make Rot from X</text>
<circle cx="1333" cy="341" r="2.2" class="fY"/><text class="t" x="1338" y="342.5">X</text>
<text class="t r" x="1372" y="342.5">Return Value</text><circle cx="1377" cy="341" r="2.2" class="fR"/>
</g>
<g id="n-invert-rotator-2">
<rect class="nb" x="1390" y="349" width="58" height="19" rx="3"/>
<rect x="1390" y="349" width="58" height="7" rx="2" fill="url(#gG)"/>
<text class="h" x="1398" y="354.5">Invert Rotator</text>
<circle cx="1396" cy="362" r="2.2" class="fR"/><text class="t" x="1401" y="363.5">A</text>
<text class="t r" x="1436" y="363.5">Return Value</text><circle cx="1441" cy="362" r="2.2" class="fR"/>
</g>
<g id="n-spawn-decal-location">
<rect class="nb" x="1422" y="248" width="108" height="88" rx="3"/>
<rect x="1422" y="248" width="108" height="7" rx="2" fill="url(#gB)"/>
<text class="h" x="1431" y="253.5">Spawn Decal at Location</text>
<rect x="1525" y="243" width="8" height="6" rx="1" fill="#222" stroke="#ddd" stroke-width=".6"/>
<use href="#ex" x="1428" y="262" class="xf"/><use href="#ex" x="1523" y="262" class="xf"/>
<circle cx="1428" cy="275" r="2.2" class="hB"/><text class="t" x="1433" y="273">Decal Material</text>
<rect class="dd" x="1435" y="275.5" width="33" height="6"/><text class="v" x="1437" y="279.8">MI_BloodWallSp</text>
<text class="t r" x="1517" y="274">Return Value</text><circle cx="1522" cy="272.6" r="2.2" class="hB"/>
<circle cx="1428" cy="295" r="2.2" class="hY"/><text class="t" x="1433" y="291">Decal Size</text>
<text class="v" x="1435" y="298">X</text><rect class="bx" x="1438.5" y="293.5" width="9" height="6"/><text class="v" x="1440" y="298">1.0</text>
<text class="v" x="1450" y="298">Y</text><rect class="bx" x="1453.5" y="293.5" width="11" height="6"/><text class="v" x="1455" y="298">75.0</text>
<text class="v" x="1467" y="298">Z</text><rect class="bx" x="1470.5" y="293.5" width="11" height="6"/><text class="v" x="1472" y="298">75.0</text>
<circle cx="1428" cy="308.6" r="2.2" class="fY"/><text class="t" x="1433" y="310">Location</text>
<circle cx="1428" cy="318.6" r="2.2" class="fR"/><text class="t" x="1433" y="320">Rotation</text>
<circle cx="1428" cy="329.6" r="2.2" class="hG"/><text class="t" x="1433" y="331">Life Span</text>
<rect class="bx" x="1451" y="326.5" width="11" height="6"/><text class="v" x="1452.5" y="331">60.0</text>
</g>

<!-- Blood VFX -->
<g id="n-other-actor-get-1">
<rect class="gp" x="478" y="451" width="42" height="12" rx="5"/>
<text class="t r" x="509" y="458.5">Other Actor</text><circle cx="513" cy="457.6" r="2.2" class="fB"/>
</g>
<g id="n-get-component-1">
<rect class="nb" x="526" y="438" width="99" height="43" rx="3"/>
<rect x="526" y="438" width="99" height="13" rx="2" fill="url(#gG)"/>
<text class="h" x="534" y="443.5">Get Component by Class</text>
<text class="hs" x="534" y="448.5">Target is Actor</text>
<circle cx="532" cy="457.6" r="2.2" class="fB"/><text class="t" x="537" y="459">Target</text>
<text class="t r" x="613" y="459">Return Value</text><circle cx="618" cy="457.6" r="2.2" class="fB"/>
<circle cx="532" cy="472" r="2.2" class="hC"/><text class="t" x="537" y="469">Component Class</text>
<rect class="dd" x="539" y="471" width="27" height="6"/><text class="v" x="541" y="475.3">AC Blood VFX</text>
</g>
<g id="n-is-valid-1">
<rect class="nb" x="653" y="418" width="73" height="30" rx="3"/>
<rect x="653" y="418" width="73" height="7" rx="2" fill="url(#gK)"/>
<text class="h" x="661" y="423.5">? Is Valid</text>
<use href="#ex" x="658" y="432" class="xf"/><text class="t" x="663" y="433.5">Exec</text>
<text class="t r" x="716" y="433.5">Is Valid</text><use href="#ex" x="721" y="432" class="xf"/>
<circle cx="659" cy="442" r="2.2" class="fB"/><text class="t" x="664" y="443.5">Input Object</text>
<text class="t r" x="716" y="443.5">Is Not Valid</text><use href="#ex" x="721" y="442" class="xh"/>
</g>
<g id="n-blood-vfx">
<rect class="nb" x="771" y="413" width="61" height="56" rx="3"/>
<rect x="771" y="413" width="61" height="13" rx="2" fill="url(#gB)"/>
<text class="h" x="779" y="418.5">Blood VFX</text>
<text class="hs" x="779" y="423.5">Target is AC Blood VFX</text>
<use href="#ex" x="777" y="432" class="xf"/><use href="#ex" x="825" y="432" class="xh"/>
<circle cx="777" cy="442" r="2.2" class="fB"/><text class="t" x="782" y="443.5">Target</text>
<circle cx="777" cy="452.6" r="2.2" class="fY"/><text class="t" x="782" y="454">Location</text>
<circle cx="777" cy="462.6" r="2.2" class="fY"/><text class="t" x="782" y="464">Normal</text>
</g>
<g id="n-location-get-5">
<rect class="gp" x="701" y="471" width="42" height="11" rx="5"/>
<text class="t r" x="732" y="478.5">Location</text><circle cx="736" cy="477" r="2.2" class="fY"/>
</g>
<g id="n-impact-normal-get-3">
<rect class="gp" x="701" y="483" width="43" height="11" rx="5"/>
<text class="t r" x="733" y="489.5">Impact Normal</text><circle cx="737" cy="488" r="2.2" class="fY"/>
</g>

<!-- Blood Artery VFX -->
<g id="n-other-actor-get-2">
<rect class="gp" x="499" y="623" width="42" height="11" rx="5"/>
<text class="t r" x="530" y="630">Other Actor</text><circle cx="534" cy="628.6" r="2.2" class="fB"/>
</g>
<g id="n-get-component-2">
<rect class="nb" x="552" y="609" width="103" height="43" rx="3"/>
<rect x="552" y="609" width="103" height="13" rx="2" fill="url(#gG)"/>
<text class="h" x="560" y="614.5">Get Component by Class</text>
<text class="hs" x="560" y="619.5">Target is Actor</text>
<circle cx="558" cy="628.6" r="2.2" class="fB"/><text class="t" x="563" y="630">Target</text>
<text class="t r" x="643" y="630">Return Value</text><circle cx="648" cy="628.6" r="2.2" class="fB"/>
<circle cx="558" cy="643" r="2.2" class="hC"/><text class="t" x="563" y="640">Component Class</text>
<rect class="dd" x="565" y="642" width="32" height="6"/><text class="v" x="567" y="646.3">AC Blood Artery</text>
</g>
<g id="n-is-valid-2">
<rect class="nb" x="680" y="574" width="73" height="31" rx="3"/>
<rect x="680" y="574" width="73" height="7" rx="2" fill="url(#gK)"/>
<text class="h" x="688" y="579.5">? Is Valid</text>
<use href="#ex" x="685" y="588" class="xf"/><text class="t" x="690" y="589.5">Exec</text>
<text class="t r" x="742" y="589.5">Is Valid</text><use href="#ex" x="747" y="588" class="xf"/>
<circle cx="685" cy="599" r="2.2" class="fB"/><text class="t" x="690" y="600.5">Input Object</text>
<text class="t r" x="742" y="600.5">Is Not Valid</text><use href="#ex" x="747" y="599" class="xh"/>
</g>
<g id="n-blood-artery-vfx">
<rect class="nb" x="785" y="569" width="74" height="78" rx="3"/>
<rect x="785" y="569" width="74" height="13" rx="2" fill="url(#gB)"/>
<text class="h" x="793" y="574.5">Blood Artery VFX</text>
<text class="hs" x="793" y="579.5">Target is AC Blood Artery VFX</text>
<use href="#ex" x="791" y="588" class="xf"/><use href="#ex" x="853" y="588" class="xh"/>
<circle cx="791" cy="599" r="2.2" class="fB"/><text class="t" x="796" y="600.5">Target</text>
<circle cx="791" cy="609.6" r="2.2" class="fY"/><text class="t" x="796" y="611">Location</text>
<circle cx="791" cy="620" r="2.2" class="fY"/><text class="t" x="796" y="621.5">Normal</text>
<circle cx="791" cy="630" r="2.2" class="fB"/><text class="t" x="796" y="631.5">Attach Mesh</text>
<circle cx="791" cy="640" r="2.2" class="fN"/><text class="t" x="796" y="641.5">Bone</text>
</g>
<g id="n-location-get-6">
<rect class="gp" x="722" y="617" width="42" height="10" rx="5"/>
<text class="t r" x="753" y="624.5">Location</text><circle cx="757" cy="622.6" r="2.2" class="fY"/>
</g>
<g id="n-impact-normal-get-4">
<rect class="gp" x="722" y="627.5" width="42" height="11" rx="5"/>
<text class="t r" x="754" y="634.5">Impact Normal</text><circle cx="758" cy="633" r="2.2" class="fY"/>
</g>
<g id="n-hit-bone-name-get-2">
<rect class="gp" x="722" y="662" width="44" height="11" rx="5"/>
<text class="t r" x="754" y="669">Hit Bone Name</text><circle cx="758" cy="667.6" r="2.2" class="fN"/>
</g>

<!-- Damage -->
<g id="n-apply-damage">
<rect class="nb" x="1359" y="433" width="97" height="81" rx="3"/>
<rect x="1359" y="433" width="97" height="7" rx="2" fill="url(#gB)"/>
<text class="h" x="1368" y="438.5">Apply Damage</text>
<rect x="1452" y="428" width="7" height="8" rx="1" fill="#ddd"/>
<use href="#ex" x="1365" y="448" class="xf"/><use href="#ex" x="1450" y="448" class="xf"/>
<circle cx="1366" cy="458" r="2.2" class="fB"/><text class="t" x="1371" y="459.5">Damaged Actor</text>
<text class="t r" x="1444" y="459.5">Return Value</text><circle cx="1449" cy="458" r="2.2" class="hG"/>
<circle cx="1366" cy="469.6" r="2.2" class="hG"/><text class="t" x="1371" y="471">Base Damage</text>
<rect class="bx" x="1393" y="466.5" width="12" height="6"/><text class="v" x="1394.5" y="471">50.0</text>
<circle cx="1366" cy="480" r="2.2" class="hB"/><text class="t" x="1371" y="481.5">Event Instigator</text>
<circle cx="1366" cy="490" r="2.2" class="hB"/><text class="t" x="1371" y="491.5">Damage Causer</text>
<circle cx="1366" cy="503" r="2.2" class="hC"/><text class="t" x="1371" y="501">Damage Type Class</text>
<rect class="dd" x="1372" y="503.5" width="26" height="6"/><text class="v" x="1374" y="507.8">Select Class</text>
</g>
<g id="n-hit-actor-get">
<rect class="gp" x="1306" y="476" width="43" height="12" rx="5"/>
<text class="t r" x="1337" y="483.5">Hit Actor</text><circle cx="1341" cy="482" r="2.2" class="fB"/>
</g>
<g id="n-destroy-actor-2">
<rect class="nb" x="1471" y="428" width="55" height="38" rx="3"/>
<rect x="1471" y="428" width="55" height="13" rx="2" fill="url(#gB)"/>
<text class="h" x="1479" y="433.5">Destroy Actor</text>
<text class="hs" x="1479" y="438.5">Target is Actor</text>
<use href="#ex" x="1477" y="448" class="xf"/><use href="#ex" x="1520" y="448" class="xh"/>
<circle cx="1477" cy="460" r="2.2" class="hB"/><text class="t" x="1482" y="461.5">Target</text>
<rect class="bx" x="1496" y="457" width="12" height="6"/><text class="v" x="1498" y="461.5">self</text>
</g>
</svg>
